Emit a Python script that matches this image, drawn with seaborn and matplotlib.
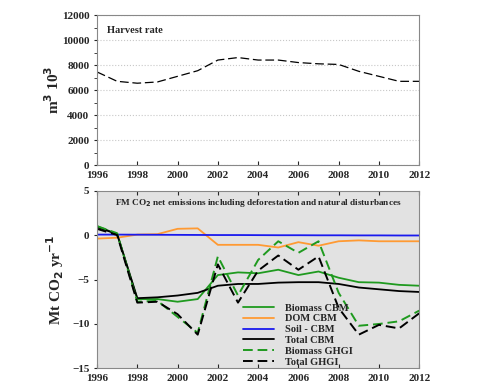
import matplotlib
matplotlib.use("Agg")
import matplotlib.pyplot as plt
from matplotlib.ticker import MultipleLocator
import pandas as pd
import seaborn as sns

sns.set_style("ticks")
plt.rcParams['font.family'] = ['Liberation Serif', 'DejaVu Serif']
plt.rcParams['font.weight'] = 'bold'

years = list(range(1996, 2013))

# harvest rate, m3 10^3
harvest = [7450, 6700, 6550, 6650, 7100, 7550, 8400, 8600, 8400, 8400,
           8200, 8100, 8050, 7500, 7100, 6700, 6700]

# Mt CO2 / yr
biomass_cbm = [1.0, 0.1, -7.2, -7.2, -7.5, -7.2, -4.5, -4.2, -4.3, -3.9,
               -4.5, -4.1, -4.8, -5.3, -5.35, -5.6, -5.7]
dom_cbm = [-0.4, -0.3, 0.05, 0.1, 0.7, 0.75, -1.1, -1.1, -1.1, -1.4,
           -0.8, -1.2, -0.7, -0.6, -0.7, -0.7, -0.7]
soil_cbm = [0.05, 0.05, 0.04, 0.03, 0.02, 0.01, 0.0, 0.0, -0.01, -0.02,
            -0.02, -0.03, -0.03, -0.04, -0.04, -0.05, -0.05]
total_cbm = [0.9, 0.1, -7.1, -7.0, -6.8, -6.5, -5.7, -5.5, -5.5, -5.35,
             -5.3, -5.3, -5.5, -5.9, -6.1, -6.3, -6.4]
biomass_ghgi = [1.0, 0.2, -7.5, -7.4, -9.2, -11.0, -2.4, -6.8, -2.8, -0.7,
                -2.0, -0.7, -6.5, -10.2, -10.0, -9.7, -8.5]
total_ghgi = [0.7, 0.0, -7.6, -7.5, -8.9, -11.2, -3.3, -7.6, -4.0, -2.3,
              -3.9, -2.4, -8.2, -11.2, -10.1, -10.5, -8.8]

series = [
    ("Biomass CBM", biomass_cbm, "#1f9a1f", "-"),
    ("DOM CBM", dom_cbm, "#ff9a33", "-"),
    ("Soil - CBM", soil_cbm, "#1a1aee", "-"),
    ("Total CBM", total_cbm, "black", "-"),
    ("Biomass GHGI", biomass_ghgi, "#1f9a1f", "--"),
    ("Total GHGI", total_ghgi, "black", "--"),
]

fig = plt.figure(figsize=(4.78, 3.85), dpi=100)
ax1 = fig.add_axes([0.203, 0.571, 0.674, 0.39])
ax2 = fig.add_axes([0.203, 0.043, 0.674, 0.462])

#%% harvest rate
hr = pd.DataFrame({"year": years, "harvest": harvest})
sns.lineplot(x="year", y="harvest", data=hr, ax=ax1, color="black",
             linewidth=0.9)
ax1.lines[0].set_dashes((7, 3))
ax1.set_xlim(1996, 2012)
ax1.set_ylim(0, 12000)
ax1.yaxis.set_major_locator(MultipleLocator(2000))
ax1.yaxis.set_minor_locator(MultipleLocator(1000))
ax1.xaxis.set_major_locator(MultipleLocator(2))
ax1.grid(axis="y", linestyle=":", color="#c8c8c8", linewidth=0.8)
ax1.set_xlabel("")
ax1.set_ylabel("m$^3$ 10$^3$", fontsize=11, fontweight="bold", labelpad=0)
ax1.text(0.03, 0.9, "Harvest rate", transform=ax1.transAxes, fontsize=7.5,
         fontweight="bold", va="center")
ax1.tick_params(axis="x", direction="in", length=3, labelsize=8, pad=4)
ax1.tick_params(axis="y", which="both", direction="out", length=2, labelsize=8)
for s in ax1.spines.values():
    s.set_color("#888888")
    s.set_linewidth(0.8)

#%% emissions
ax2.set_facecolor("#e2e2e2")
for name, vals, col, ls in series:
    df = pd.DataFrame({"year": years, "val": vals})
    sns.lineplot(x="year", y="val", data=df, ax=ax2, color=col, label=name,
                 linewidth=1.3 if ls == "-" else 1.4)
    if ls == "--":
        ax2.lines[-1].set_dashes((5, 2.5))
ax2.set_xlim(1996, 2012)
ax2.set_ylim(-15, 5)
ax2.yaxis.set_major_locator(MultipleLocator(5))
ax2.xaxis.set_major_locator(MultipleLocator(2))
ax2.set_xlabel("")
ax2.set_ylabel("Mt CO$_2$ yr$^{-1}$", fontsize=11, fontweight="bold", labelpad=4)
ax2.text(0.5, 0.93, "FM CO$_2$ net emissions including deforestation and natural disturbances",
         transform=ax2.transAxes, fontsize=6.7, fontweight="bold", ha="center", va="center")
ax2.tick_params(axis="x", direction="in", length=3, top=True, labelsize=8, pad=4)
ax2.tick_params(axis="y", direction="out", length=2, labelsize=8)
for s in ax2.spines.values():
    s.set_color("#888888")
    s.set_linewidth(0.8)
leg = ax2.legend(loc="upper left", bbox_to_anchor=(0.44, 0.39), frameon=False,
                 fontsize=7.5, handlelength=3.0, labelspacing=0.15, borderaxespad=0,
                 handletextpad=1.0)
for t in leg.get_texts():
    t.set_fontweight("bold")

for ax in (ax1, ax2):
    for lab in ax.get_xticklabels() + ax.get_yticklabels():
        lab.set_fontweight("bold")

fig.savefig("out.png", dpi=100)
